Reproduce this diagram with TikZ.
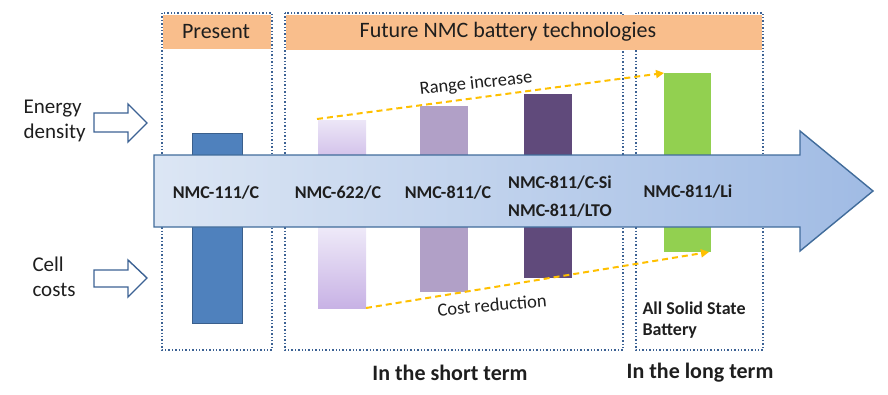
\documentclass[tikz,border=0pt]{standalone}
\usepackage{fontspec}
\setmainfont{Carlito}
\usetikzlibrary{arrows.meta}
\definecolor{boxline}{RGB}{60,98,148}
\definecolor{hdr}{RGB}{249,190,140}
\definecolor{arrL}{RGB}{220,230,244}
\definecolor{arrR}{RGB}{160,187,228}
\definecolor{arrB}{RGB}{65,108,155}
\definecolor{nmcA}{RGB}{79,129,189}
\definecolor{nmcAb}{RGB}{58,95,140}
\definecolor{nmcBt}{RGB}{240,236,249}
\definecolor{nmcBb}{RGB}{200,178,229}
\definecolor{nmcC}{RGB}{177,160,199}
\definecolor{nmcD}{RGB}{96,74,123}
\definecolor{nmcE}{RGB}{146,208,80}
\definecolor{dashO}{RGB}{255,192,0}
\definecolor{txt}{RGB}{30,30,30}
\tikzset{
  periodbox/.style={draw=boxline, line width=1.4pt, dotted},
  hdrbox/.style={fill=hdr, draw=none},
  hdrtext/.style={font=\fontsize{22}{24}\selectfont, text=txt},
  sidetext/.style={font=\fontsize{21}{25}\selectfont, text=txt, align=left},
  techlabel/.style={font=\bfseries\fontsize{18}{28}\selectfont, text=txt, align=center},
  termlabel/.style={font=\bfseries\fontsize{22}{24}\selectfont, text=txt},
  trendline/.style={draw=dashO, line width=2pt, dash pattern=on 6pt off 4pt, -{Triangle[length=8pt,width=8pt]}},
  trendtext/.style={font=\fontsize{18.5}{20}\selectfont, text=txt},
  hollowarrow/.style={draw=boxline, line width=1.4pt, fill=white},
}
\begin{document}
\begin{tikzpicture}[x=1pt,y=-1pt]
\useasboundingbox (0,0) rectangle (888,394);
% period boxes
\draw[periodbox] (162,13) rectangle (272,350);
\draw[periodbox] (285,13) rectangle (623,350);
\draw[periodbox] (636,13) rectangle (763,350);
% headers
\fill[hdrbox] (163,15) rectangle (271,49);
\fill[hdrbox] (286,15) rectangle (762,50);
\node[hdrtext] (hpresent) at (216,32) {Present};
\node[hdrtext] (hfuture) at (508,32) {Future NMC battery technologies};
% bars
\fill[nmcA, draw=nmcAb, line width=1pt] (192,133) rectangle (242,323);
\shade[top color=nmcBt!90!nmcBb, bottom color=nmcBb!80!nmcBt] (318,120) rectangle (366,160);
\shade[top color=nmcBt, bottom color=nmcBb] (318,224) rectangle (366,308);
\fill[nmcC] (420,106) rectangle (468,292);
\fill[nmcD] (524,94) rectangle (572,278);
\fill[nmcE] (664,73) rectangle (711,252);
\coordinate (riseA) at (317,119);
\coordinate (riseB) at (664,73);
\coordinate (costA) at (366,308);
\coordinate (costB) at (709,252);
% main arrow
\path[draw=arrB, line width=1.4pt, left color=arrL, right color=arrR]
  (154,155) -- (800,155) -- (800,131) -- (873,191) -- (800,251) -- (800,227) -- (154,227) -- cycle;
% labels on arrow
\node[techlabel] (t111) at (216,193) {NMC-111/C};
\node[techlabel] (t622) at (338,193) {NMC-622/C};
\node[techlabel] (t811) at (448,193) {NMC-811/C};
\node[techlabel] (t811si) at (560,197) {NMC-811/C-Si\\NMC-811/LTO};
\node[techlabel] (t811li) at (688,192) {NMC-811/Li};
% trend lines
\draw[trendline] (riseA) -- (riseB);
\draw[trendline] (costA) -- (costB);
\node[trendtext, rotate=6] (trise) at (476,84) {Range increase};
\node[trendtext, rotate=5] (tcost) at (492,305) {Cost reduction};
% side arrows
\path[hollowarrow] (94,113) -- (128,113) -- (128,104) -- (147,123) -- (128,142) -- (128,132) -- (94,132) -- cycle;
\path[hollowarrow] (94,270) -- (128,270) -- (128,260) -- (147,278) -- (128,297) -- (128,287) -- (94,287) -- cycle;
\node[sidetext, anchor=west] (tenergy) at (20,121) {Energy\\density};
\node[sidetext, anchor=west] (tcost2) at (29,277) {Cell\\costs};
% solid state label
\node[techlabel, align=left, anchor=west, font=\bfseries\fontsize{18}{21}\selectfont] (tass) at (639,320) {All Solid State\\Battery};
% bottom terms
\node[termlabel] (tshort) at (450,373) {In the short term};
\node[termlabel] (tlong) at (700,373) {In the long term};
\end{tikzpicture}
\end{document}
